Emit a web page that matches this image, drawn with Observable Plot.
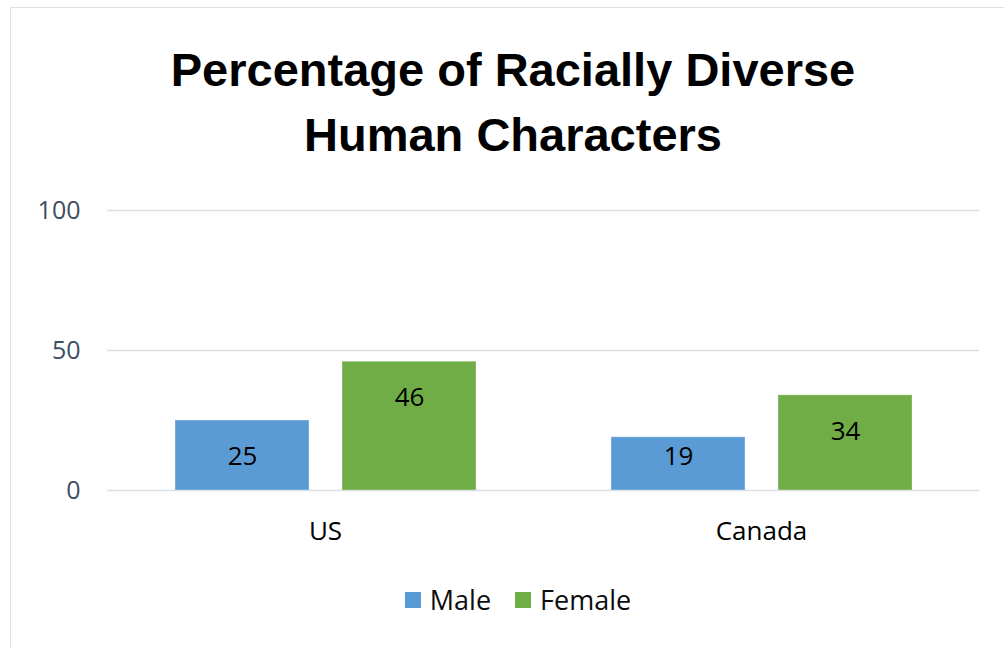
<!DOCTYPE html>
<html>
<head>
<meta charset="utf-8">
<script src="https://cdn.jsdelivr.net/npm/d3@7"></script>
<script src="https://cdn.jsdelivr.net/npm/@observablehq/plot@0.6"></script>
<style>
  html, body { margin: 0; padding: 0; background: #fff; }
  #wrap { position: relative; width: 1004px; height: 647px; overflow: hidden; font-family: "Open Sans", Lato, sans-serif; }
  #frame { position: absolute; left: 10px; top: 7px; width: 1100px; height: 700px; border: 1.5px solid #dde1e7; box-sizing: border-box; }
  #title { position: absolute; left: 0; width: 1004px; top: 37px; text-align: center; font-family: "Liberation Sans", sans-serif; font-weight: bold; font-size: 47px; line-height: 65px; color: #000; padding-left: 22px; box-sizing: border-box; }
  #chart { position: absolute; left: 0; top: 180px; }
  #legend { position: absolute; top: 581px; left: 0; width: 1004px; display: flex; justify-content: center; padding-left: 32px; box-sizing: border-box; font-size: 27px; line-height: 38px; color: #0d0d0d; }
  .item { display: flex; align-items: center; margin: 0 12px; }
  .sw { width: 16px; height: 16px; margin-right: 9px; }
</style>
</head>
<body>
<div id="wrap">
  <div id="frame"></div>
  <div id="title">Percentage of Racially Diverse<br>Human Characters</div>
  <div id="chart"></div>
  <div id="legend"></div>
</div>
<script>
const countries = ["US", "Canada"];
const series = ["Male", "Female"];
const maleValues = [25, 19];
const femaleValues = [46, 34];
const yTicks = [0, 50, 100];
const colors = ["#5b9bd5", "#70ad47"];

const data = [];
countries.forEach((c, i) => {
  data.push({country: c, sex: "Male", value: maleValues[i]});
  data.push({country: c, sex: "Female", value: femaleValues[i]});
});

const chart = Plot.plot({
  width: 1004,
  height: 380,
  marginTop: 30,
  marginBottom: 70,
  marginLeft: 107,
  marginRight: 25,
  style: {fontFamily: "'Open Sans', Lato, sans-serif", fontSize: "25px", background: "transparent"},
  fx: {domain: countries, padding: 0, label: null},
  x: {domain: series, paddingInner: 0.2, paddingOuter: 0.4, axis: null},
  y: {domain: [0, 100], axis: null},
  color: {domain: series, range: colors},
  marks: [
    Plot.ruleY(yTicks, {y: d => d, stroke: "#d9dde4", strokeWidth: 1.5}),
    Plot.barY(data, {fx: "country", x: "sex", y: "value", fill: "sex", stroke: "#ffffff", strokeOpacity: 0.3, strokeWidth: 1, inset: 0}),
    Plot.text(data, {fx: "country", x: "sex", y: d => Math.max(d.value - 13, 12), text: d => String(d.value), fill: "#000", fontSize: 26}),
    Plot.axisY({ticks: yTicks, tickSize: 0, tickPadding: 27, fontSize: 25, color: "#3f4d62", label: null}),
    Plot.axisFx({anchor: "bottom", tickSize: 0, tickPadding: 31, fontSize: 26, color: "#000", label: null})
  ]
});
document.getElementById("chart").appendChild(chart);

const legend = document.getElementById("legend");
series.forEach((s, i) => {
  const item = document.createElement("div");
  item.className = "item";
  const sw = document.createElement("div");
  sw.className = "sw";
  sw.style.background = colors[i];
  const lab = document.createElement("span");
  lab.textContent = s;
  item.appendChild(sw);
  item.appendChild(lab);
  legend.appendChild(item);
});
</script>
</body>
</html>
